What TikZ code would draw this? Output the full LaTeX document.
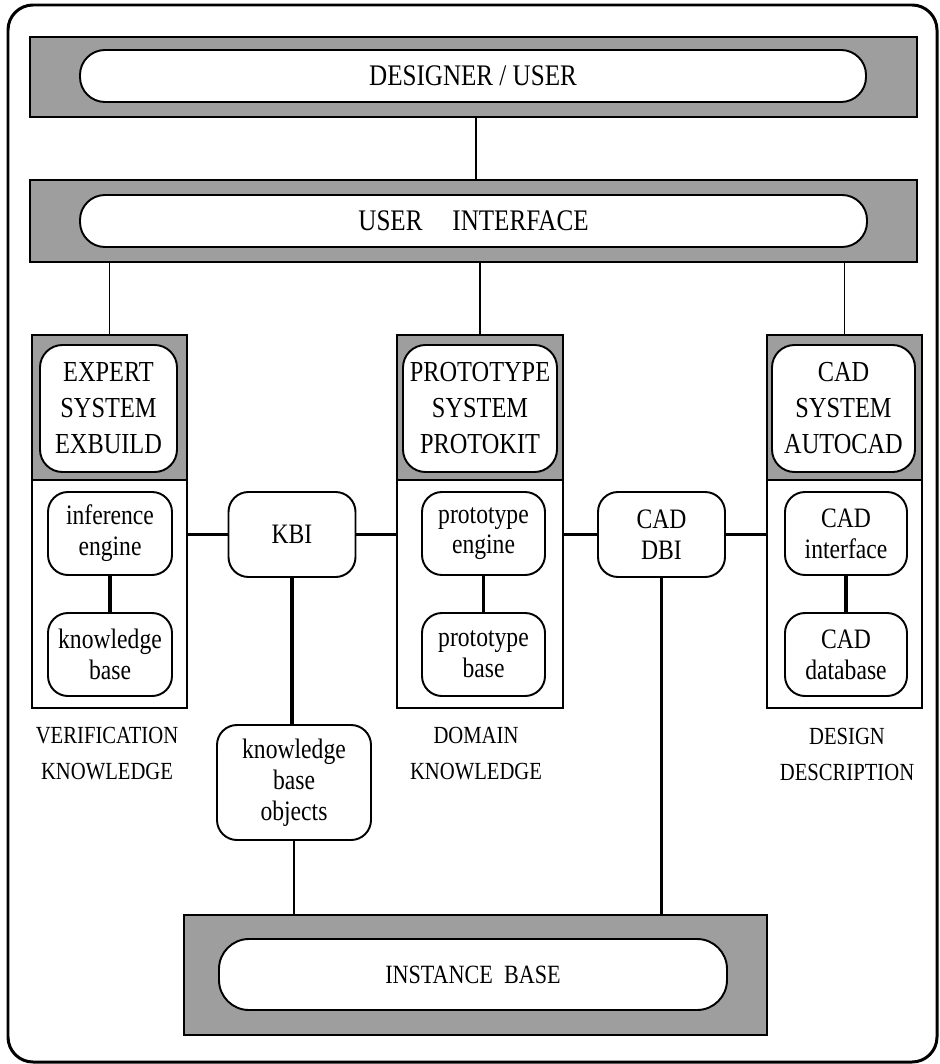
\documentclass[tikz,border=0pt]{standalone}
\usepackage{fontspec}
\setmainfont{Liberation Serif}[FakeStretch=0.84]
\tikzset{
  every picture/.style={line width=1.1pt},
  bar/.style={draw,fill=black!38,inner sep=0pt},
  pill/.style={draw,fill=white,inner sep=0pt,font=\fontsize{17}{20}\selectfont},
  col/.style={draw,minimum height=7.46cm,inner sep=0pt},
  hd/.style={draw,fill=black!38,minimum height=2.9cm,inner sep=0pt},
  sys/.style={draw,fill=white,rounded corners=0.45cm,minimum height=2.54cm,inner sep=0pt,align=center,font=\fontsize{16.5}{20.5}\selectfont},
  sub/.style={draw,fill=white,rounded corners=0.4cm,minimum height=1.66cm,inner sep=0pt,align=center,font=\fontsize{16}{17.5}\selectfont},
  lbl/.style={align=center,font=\fontsize{14}{20.5}\selectfont},
  wire/.style={line width=1.9pt},
}
\begin{document}
\begin{tikzpicture}[x=0.2mm,y=-0.2mm]
\useasboundingbox (0,0) rectangle (940,1064);
\draw[line width=1.7pt,rounded corners=0.5cm] (8,5) rectangle (937,1062);
\node[bar,minimum width=17.74cm,minimum height=1.6cm] (dsgb) at (473.5,77){};
\node[pill,minimum width=15.72cm,minimum height=1.04cm,rounded corners=0.5cm] (dsg) at (473,76){DESIGNER / USER};
\node[bar,minimum width=17.74cm,minimum height=1.64cm] (uib) at (473.5,221){};
\node[pill,minimum width=15.74cm,minimum height=1.04cm,rounded corners=0.5cm] (ui) at (473.5,221){USER\quad INTERFACE};
\node[col,minimum width=3.1cm] (colL) at (109.5,521.5){}; \node[hd,minimum width=3.1cm] (hdL) at (109.5,407.5){};
\node[sys,minimum width=2.74cm] (sysL) at (108.5,408.5){EXPERT\\SYSTEM\\EXBUILD};
\node[sub,minimum width=2.48cm] (ie) at (110,533.5){inference\\engine}; \node[sub,minimum width=2.48cm] (kb) at (110,654.5){knowledge\\base};
\node[col,minimum width=3.32cm] (colM) at (480,521.5){}; \node[hd,minimum width=3.32cm] (hdM) at (480,407.5){};
\node[sys,minimum width=3.08cm] (sysM) at (480,408.5){PROTOTYPE\\SYSTEM\\PROTOKIT};
\node[sub,minimum width=2.46cm] (pe) at (483.5,533.5){prototype\\engine}; \node[sub,minimum width=2.46cm] (pb) at (483.5,654.5){prototype\\base};
\node[col,minimum width=3.1cm] (colR) at (844.5,521.5){}; \node[hd,minimum width=3.1cm] (hdR) at (844.5,407.5){};
\node[sys,minimum width=2.86cm] (sysR) at (843.5,408.5){CAD\\SYSTEM\\AUTOCAD};
\node[sub,minimum width=2.44cm] (ci) at (846,533.5){CAD\\interface}; \node[sub,minimum width=2.44cm] (cd) at (846,654.5){CAD\\database};
\node[sub,minimum width=2.54cm,minimum height=1.7cm] (kbi) at (292,534.5){KBI};
\node[sub,minimum width=2.54cm,minimum height=1.7cm] (dbi) at (661.5,534.5){CAD\\DBI};
\node[sub,minimum width=3.08cm,minimum height=2.3cm] (kbo) at (294,782.5){knowledge\\base\\objects};
\node[bar,minimum width=11.66cm,minimum height=2.4cm] (instb) at (475.5,975){};
\node[pill,minimum width=10.16cm,minimum height=1.42cm,rounded corners=0.6cm,font=\fontsize{15}{18}\selectfont] (inst) at (473,974.5){INSTANCE\ \ BASE};
\node[lbl] (lblL) at (107,754){VERIFICATION\\KNOWLEDGE}; \node[lbl] (lblM) at (476,754){DOMAIN\\KNOWLEDGE};
\node[lbl] (lblR) at (847,754){DESIGN\\DESCRIPTION};
\draw (dsgb.south -| 476,0) -- (uib.north -| 476,0);
\draw (uib.south -| colL.north) -- (colL.north); \draw (uib.south -| colM.north) -- (colM.north); \draw (uib.south -| colR.north) -- (colR.north);
\draw[wire] (ie) -- (kb); \draw[wire] (pe) -- (pb); \draw[wire] (ci) -- (cd);
\draw[wire] (colL.east |- kbi) -- (kbi.west); \draw[wire] (kbi.east) -- (colM.west |- kbi);
\draw[wire] (colM.east |- dbi) -- (dbi.west); \draw[wire] (dbi.east) -- (colR.west |- dbi);
\draw[wire] (kbi.south) -- (kbi.south |- kbo.north); \draw[line width=1.5pt] (kbo.south) -- (kbo.south |- instb.north);
\draw[wire] (dbi.south) -- (dbi.south |- instb.north);
\end{tikzpicture}
\end{document}
